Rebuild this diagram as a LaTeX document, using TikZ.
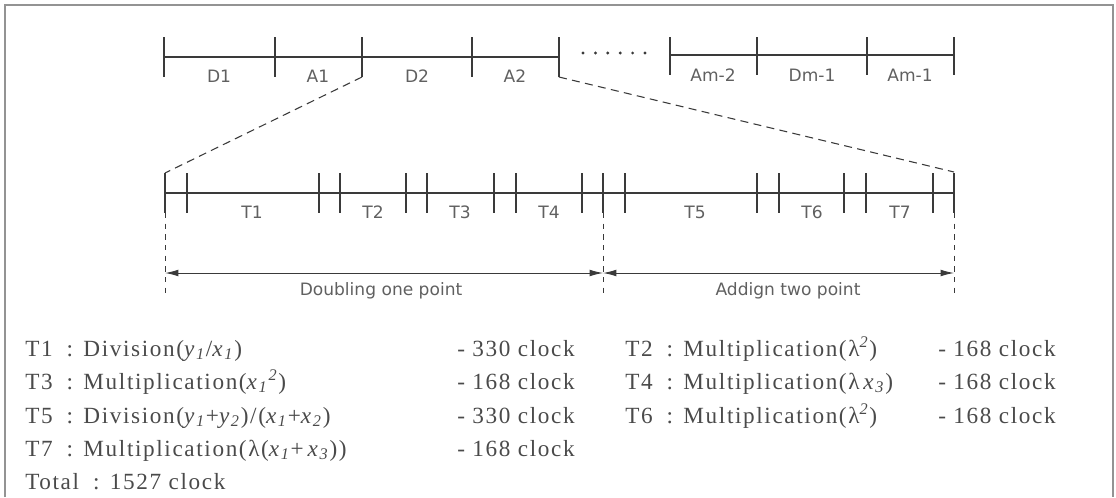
\documentclass[tikz,border=0pt]{standalone}
\usepackage{fontspec}
\setmainfont{Liberation Serif}
\newfontfamily\lblfont{DejaVu Sans}
\newfontfamily\txtfont[LetterSpace=7]{Liberation Serif}
\usetikzlibrary{arrows.meta}
\definecolor{linec}{HTML}{3A3A3A}
\definecolor{lblc}{HTML}{606060}
\definecolor{txtc}{HTML}{4A4A4A}
\newcommand{\vv}[2]{\textit{#1}\textsubscript{\textit{#2}}}
\newcommand{\sep}{\hspace{0.6em}:\hspace{0.45em}}
\tikzset{
  bar/.style={draw=linec, line width=1.1pt},
  tick/.style={draw=linec, line width=1.3pt},
  dashline/.style={draw=linec, line width=0.8pt, dash pattern=on 6pt off 4pt},
  vdash/.style={draw=linec, line width=0.7pt, dash pattern=on 4pt off 4pt},
  dim/.style={draw=linec, line width=0.7pt, {Latex[length=10pt,width=5pt]}-{Latex[length=10pt,width=5pt]}},
  seglbl/.style={font=\lblfont\fontsize{12.8pt}{15pt}\selectfont, text=lblc, inner sep=0pt},
  rowtxt/.style={font=\txtfont\fontsize{17.4pt}{20pt}\selectfont, text=txtc, inner sep=0pt, anchor=base west},
}
\begin{document}
\begin{tikzpicture}[x=0.75pt, y=-0.75pt]
\useasboundingbox (0,0) rectangle (1116,497);
% frame
\draw[draw=gray!85, line width=1pt] (5,497) -- (5,5) -- (1113,5) -- (1113,497);
% ---- top bar ----
\coordinate (a0) at (164,57); \coordinate (a4) at (559,57);
\draw[bar] (a0) -- (a4);
\foreach \x in {164,275,362,472,559} \draw[tick] (\x,37) -- (\x,77);
\coordinate (zl) at (362,77);
\coordinate (zr) at (559,77);
\draw[bar] (670,55) -- (954,55);
\foreach \x in {670,757,867,954} \draw[tick] (\x,37) -- (\x,75);
\foreach \i in {0,...,5} \fill[linec] (583+\i*12.4,53) circle (1.6);
\node[seglbl] (d1) at (219,76) {D1};
\node[seglbl] (a1) at (318,76) {A1};
\node[seglbl] (d2) at (417,76) {D2};
\node[seglbl] (a2) at (515,76) {A2};
\node[seglbl] (am2) at (713,75) {Am-2};
\node[seglbl] (dm1) at (812,75) {Dm-1};
\node[seglbl] (am1) at (910,75) {Am-1};
% ---- second bar ----
\coordinate (b0) at (165,173);
\coordinate (bm) at (603,213);
\coordinate (b1) at (954,172);
\draw[bar] (165,193) -- (954,193);
\foreach \x in {165,187,319,340,406,427,494,516,582,603,625,757,779,844,866,933,954}
  \draw[tick] (\x,173) -- (\x,213);
\node[seglbl] (t1) at (252,212) {T1};
\node[seglbl] (t2) at (373,212) {T2};
\node[seglbl] (t3) at (460,212) {T3};
\node[seglbl] (t4) at (549,212) {T4};
\node[seglbl] (t5) at (695,212) {T5};
\node[seglbl] (t6) at (812,212) {T6};
\node[seglbl] (t7) at (900,212) {T7};
% zoom dashed lines
\draw[dashline] (zl) -- (b0);
\draw[dashline] (zr) -- (b1);
% vertical dashed extension lines
\coordinate (v0) at (165,295); \coordinate (vm) at (603,295); \coordinate (v1) at (954,295);
\draw[vdash] (165,213) -- (v0);
\draw[vdash] (bm) -- (vm);
\draw[vdash] (954,213) -- (v1);
\coordinate (p0) at (165,273); \coordinate (pm) at (603,273); \coordinate (p1) at (954,273);
\draw[dim] (p0) -- (pm);
\draw[dim] (pm) -- (p1);
\node[seglbl] (dbl) at (381,291) {Doubling one point};
\node[seglbl] (add) at (788,291) {Addign two point};
% ---- operation list ----
\node[rowtxt] (r1) at (25,356) {T1\sep Division(\vv{y}{1}/\vv{x}{1})};
\node[rowtxt] (r3) at (25,389) {T3\sep Multiplication(\vv{x}{1}\textsuperscript{\textit{2}})};
\node[rowtxt] (r5) at (25,423) {T5\sep Division(\vv{y}{1}+\vv{y}{2})/(\vv{x}{1}+\vv{x}{2})};
\node[rowtxt] (r7) at (25,456) {T7\sep Multiplication(λ(\vv{x}{1}+\,\vv{x}{3}))};
\node[rowtxt] (tot) at (25,489) {Total\sep 1527 clock};
\node[rowtxt] (c1) at (457,356) {-\ 330 clock};
\node[rowtxt] (c3) at (457,389) {-\ 168 clock};
\node[rowtxt] (c5) at (457,423) {-\ 330 clock};
\node[rowtxt] (c7) at (457,456) {-\ 168 clock};
\node[rowtxt] (r2) at (625,356) {T2\sep Multiplication(λ\textsuperscript{\textit{2}})};
\node[rowtxt] (r4) at (625,389) {T4\sep Multiplication(λ\,\vv{x}{3})};
\node[rowtxt] (r6) at (625,423) {T6\sep Multiplication(λ\textsuperscript{\textit{2}})};
\node[rowtxt] (c2) at (938,356) {-\ 168 clock};
\node[rowtxt] (c4) at (938,389) {-\ 168 clock};
\node[rowtxt] (c6) at (938,423) {-\ 168 clock};
\end{tikzpicture}
\end{document}
